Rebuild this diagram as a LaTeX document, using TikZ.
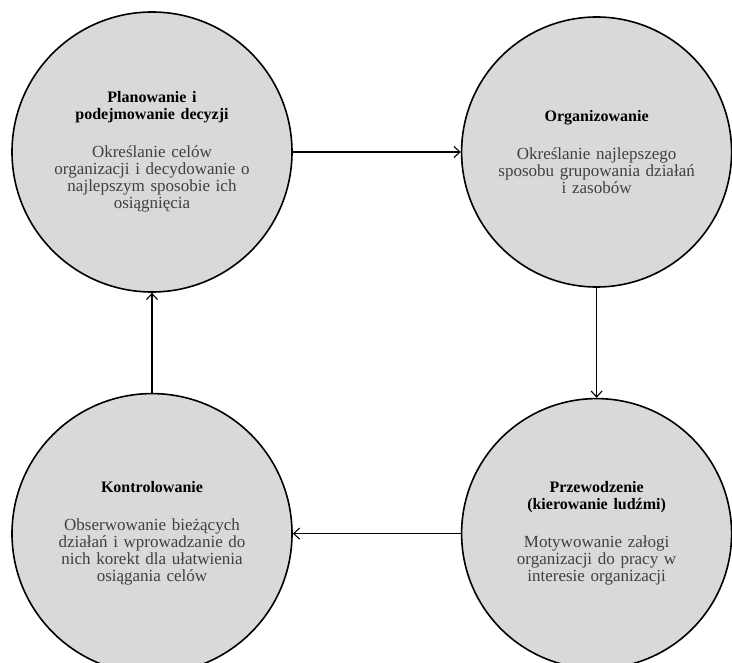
\documentclass[tikz,border=0pt]{standalone}
\usepackage{fontspec}
\setmainfont{Liberation Serif}
\usetikzlibrary{arrows.meta, positioning}

\definecolor{phasegray}{HTML}{D9D9D9}
\definecolor{desctext}{HTML}{404040}

\begin{document}
\begin{tikzpicture}[
    x=1pt, y=1pt,
    phase/.style={circle, draw, line width=1.6pt, fill=phasegray, minimum size=280pt, inner sep=0pt, text width=240pt, align=center, font=\fontsize{17}{17}\selectfont},
    arrow/.style={-{Straight Barb[length=6pt, width=11pt]}, line width=1.1pt},
    node distance=110pt and 168pt
]
    \useasboundingbox (0,0) rectangle (732,-663);

    % Planning
    \node[phase] (plan) at (152,-152) {\fontsize{16}{17}\selectfont\bfseries Planowanie i\\podejmowanie decyzji\\[21pt]\fontsize{17}{17}\selectfont\mdseries\color{desctext}Określanie celów\\organizacji i decydowanie o\\najlepszym sposobie ich\\osiągnięcia};

    % Organizing
    \node[phase, minimum size=270pt, right=of plan] (org) {\fontsize{16}{17}\selectfont\bfseries Organizowanie\\[21pt]\fontsize{17}{17}\selectfont\mdseries\color{desctext}Określanie najlepszego\\sposobu grupowania działań\\i zasobów};

    % Leading
    \node[phase, minimum size=270pt, below=of org] (lead) {\fontsize{16}{17}\selectfont\bfseries Przewodzenie\\(kierowanie ludźmi)\\[21pt]\fontsize{17}{17}\selectfont\mdseries\color{desctext}Motywowanie załogi\\organizacji do pracy w\\interesie organizacji};

    % Controlling
    \node[phase, left=of lead] (control) {\fontsize{16}{17}\selectfont\bfseries Kontrolowanie\\[21pt]\fontsize{17}{17}\selectfont\mdseries\color{desctext}Obserwowanie bieżących\\działań i wprowadzanie do\\nich korekt dla ułatwienia\\osiągania celów};

    % Cycle
    \draw[arrow] (plan) -- (org);
    \draw[arrow] (org) -- (lead);
    \draw[arrow] (lead) -- (control);
    \draw[arrow] (control) -- (plan);
\end{tikzpicture}
\end{document}
